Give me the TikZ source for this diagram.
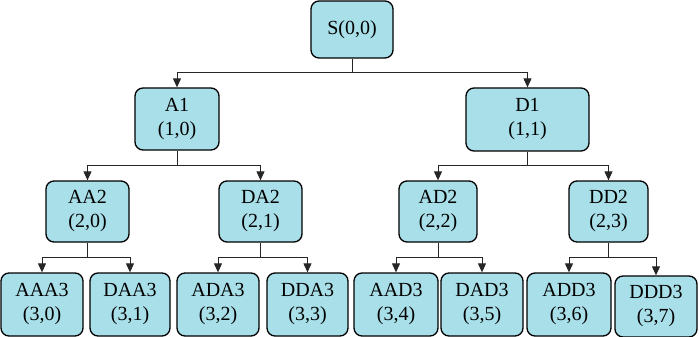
\documentclass[tikz,border=0pt]{standalone}
\usepackage{fontspec}
\setmainfont{Liberation Serif}
\usetikzlibrary{arrows.meta}
\definecolor{boxfill}{RGB}{168,223,233}
\tikzset{
  tbox/.style={draw=black, line width=1.3pt, fill=boxfill, rounded corners=8pt,
    align=center, inner sep=0pt, font=\fontsize{20}{24}\selectfont,
    minimum height=62pt},
  conn/.style={draw=black!85, line width=1pt},
  arr/.style={conn, -{Triangle[length=9pt,width=8pt]}}
}
\begin{document}
\begin{tikzpicture}[x=1pt,y=-1pt]
\useasboundingbox (0,0) rectangle (699,337);
\node[tbox, minimum width=82pt, minimum height=57pt] (S) at (352,29.5) {S(0,0)};
\node[tbox, minimum width=84pt] (A1) at (177,119) {A1\\(1,0)};
\node[tbox, minimum width=123pt, minimum height=63pt] (D1) at (527.5,119.5) {D1\\(1,1)};
\node[tbox, minimum width=83pt, minimum height=61pt] (AA2) at (87.5,211.5) {AA2\\(2,0)};
\node[tbox, minimum width=83pt, minimum height=61pt] (DA2) at (260.5,211.5) {DA2\\(2,1)};
\node[tbox, minimum width=78pt, minimum height=61pt] (AD2) at (438,211.5) {AD2\\(2,2)};
\node[tbox, minimum width=79pt, minimum height=61pt] (DD2) at (608.5,211.5) {DD2\\(2,3)};
\node[tbox, minimum width=82pt, minimum height=63pt] (AAA3) at (42,304.5) {AAA3\\(3,0)};
\node[tbox, minimum width=80pt, minimum height=63pt] (DAA3) at (130,304.5) {DAA3\\(3,1)};
\node[tbox, minimum width=82pt, minimum height=63pt] (ADA3) at (218,304.5) {ADA3\\(3,2)};
\node[tbox, minimum width=81pt, minimum height=63pt] (DDA3) at (307.5,304.5) {DDA3\\(3,3)};
\node[tbox, minimum width=84pt, minimum height=63pt] (AAD3) at (396,304.5) {AAD3\\(3,4)};
\node[tbox, minimum width=82pt, minimum height=63pt] (DAD3) at (482,304.5) {DAD3\\(3,5)};
\node[tbox, minimum width=84pt, minimum height=63pt] (ADD3) at (569,304.5) {ADD3\\(3,6)};
\node[tbox, minimum width=82pt, minimum height=61pt] (DDD3) at (656,306.5) {DDD3\\(3,7)};
% connectors
\foreach \p/\a/\b/\d in {S/A1/D1/14, A1/AA2/DA2/15, D1/AD2/DD2/14, AA2/AAA3/DAA3/15, DA2/ADA3/DDA3/15, AD2/AAD3/DAD3/15, DD2/ADD3/DDD3/15}{
  \coordinate (\p-j) at ([yshift=-\d pt]\p.south);
  \draw[conn] (\p.south) -- (\p-j);
  \draw[arr] (\p-j) -| (\a.north);
  \draw[arr] (\p-j) -| (\b.north);
}
\end{tikzpicture}
\end{document}
